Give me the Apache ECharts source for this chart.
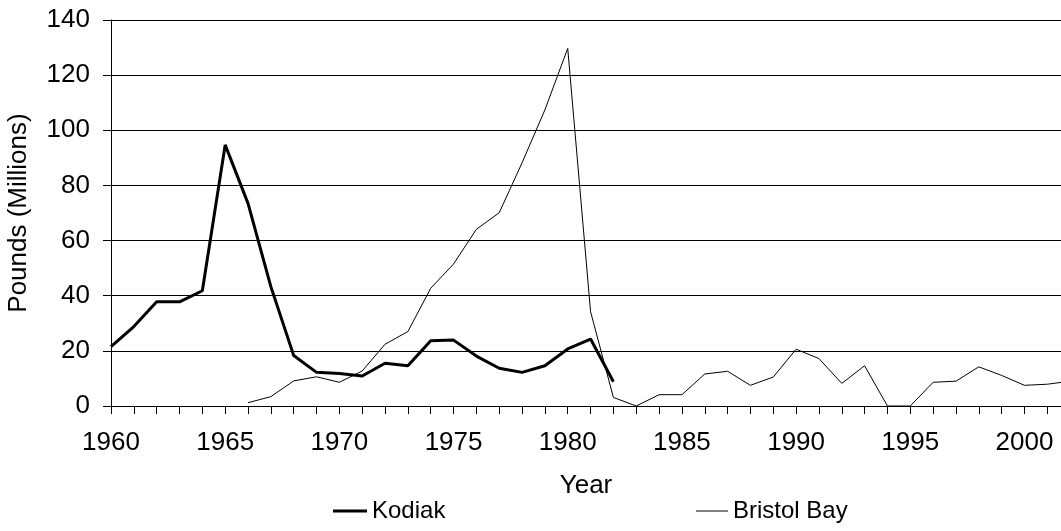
<!DOCTYPE html>
<html>
<head>
<meta charset="utf-8">
<script src="https://cdn.jsdelivr.net/npm/echarts@6/dist/echarts.min.js"></script>
<style>
  html, body { margin: 0; padding: 0; background: #fff; }
  #chart { width: 1061px; height: 531px; }
</style>
</head>
<body>
<div id="chart"></div>
<script>
// Years on the x axis
const years = [1960, 1961, 1962, 1963, 1964, 1965, 1966, 1967, 1968, 1969,
               1970, 1971, 1972, 1973, 1974, 1975, 1976, 1977, 1978, 1979,
               1980, 1981, 1982, 1983, 1984, 1985, 1986, 1987, 1988, 1989,
               1990, 1991, 1992, 1993, 1994, 1995, 1996, 1997, 1998, 1999,
               2000, 2001, 2002];

// Pounds (millions)
const kodiak = [21.5, 28.8, 37.8, 37.8, 41.8, 94.7, 73.5, 43.3, 18.3, 12.2,
                11.8, 10.9, 15.5, 14.6, 23.7, 23.9, 18.1, 13.7, 12.2, 14.6,
                20.7, 24.3, 8.8, null, null, null, null, null, null, null,
                null, null, null, null, null, null, null, null, null, null,
                null, null, null];

const bristolBay = [null, null, null, null, null, null, 1.2, 3.4, 9.1, 10.6,
                    8.6, 12.7, 22.4, 27.0, 42.7, 51.5, 64.1, 70.1, 88.2, 107.4,
                    129.7, 34.2, 3.1, 0, 4.1, 4.1, 11.6, 12.6, 7.5, 10.5,
                    20.6, 17.2, 8.2, 14.6, 0, 0, 8.6, 9.0, 14.2, 11.1,
                    7.5, 7.9, 9.0];

const yearTicks = years.slice(0, 42);
const yearLabels = [1960, 1965, 1970, 1975, 1980, 1985, 1990, 1995, 2000];

function pairs(values) {
    let out = [];
    for (let i = 0; i < years.length; i++) {
        out.push([years[i], values[i]]);
    }
    return out;
}

const font = 'Liberation Sans, Arial, sans-serif';

var myChart = echarts.init(document.getElementById('chart'));

var option = {
    animation: false,
    grid: { left: 111, right: 0, top: 20, bottom: 125, outerBoundsMode: 'none' },
    legend: [
        {
            data: ['Kodiak'],
            left: 333, top: 499, padding: 0,
            icon: 'rect', itemWidth: 34, itemHeight: 3,
            textStyle: { fontFamily: font, fontSize: 24, color: '#000' }
        },
        {
            data: ['Bristol Bay'],
            left: 696, top: 499, padding: 0,
            icon: 'rect', itemWidth: 32, itemHeight: 1,
            textStyle: { fontFamily: font, fontSize: 24, color: '#000' }
        }
    ],
    xAxis: {
        type: 'value',
        min: 1960,
        max: 2001.6,
        name: 'Year',
        nameLocation: 'middle',
        nameGap: 67,
        nameTextStyle: { fontFamily: font, fontSize: 26, color: '#000' },
        axisLine: { lineStyle: { color: '#000', width: 1 } },
        axisTick: { customValues: yearTicks, length: 8, lineStyle: { color: '#000' } },
        axisLabel: {
            customValues: yearLabels, margin: 24,
            fontFamily: font, fontSize: 26, color: '#000',
            formatter: function (v) { return String(v); }
        },
        splitLine: { show: false }
    },
    yAxis: {
        type: 'value',
        min: 0,
        max: 140,
        interval: 20,
        name: 'Pounds (Millions)',
        nameLocation: 'middle',
        nameGap: 79,
        nameTextStyle: { fontFamily: font, fontSize: 26, color: '#000' },
        axisLine: { show: true, lineStyle: { color: '#000', width: 1 } },
        axisTick: { show: true, length: 8, lineStyle: { color: '#000' } },
        axisLabel: { margin: 21, fontFamily: font, fontSize: 26, color: '#000' },
        splitLine: { lineStyle: { color: '#000', width: 1 } }
    },
    series: [
        {
            name: 'Kodiak',
            type: 'line',
            data: pairs(kodiak),
            showSymbol: false,
            color: '#000',
            lineStyle: { color: '#000', width: 3 }
        },
        {
            name: 'Bristol Bay',
            type: 'line',
            data: pairs(bristolBay),
            showSymbol: false,
            color: '#000',
            lineStyle: { color: '#000', width: 1 }
        }
    ]
};

myChart.setOption(option);
</script>
</body>
</html>
